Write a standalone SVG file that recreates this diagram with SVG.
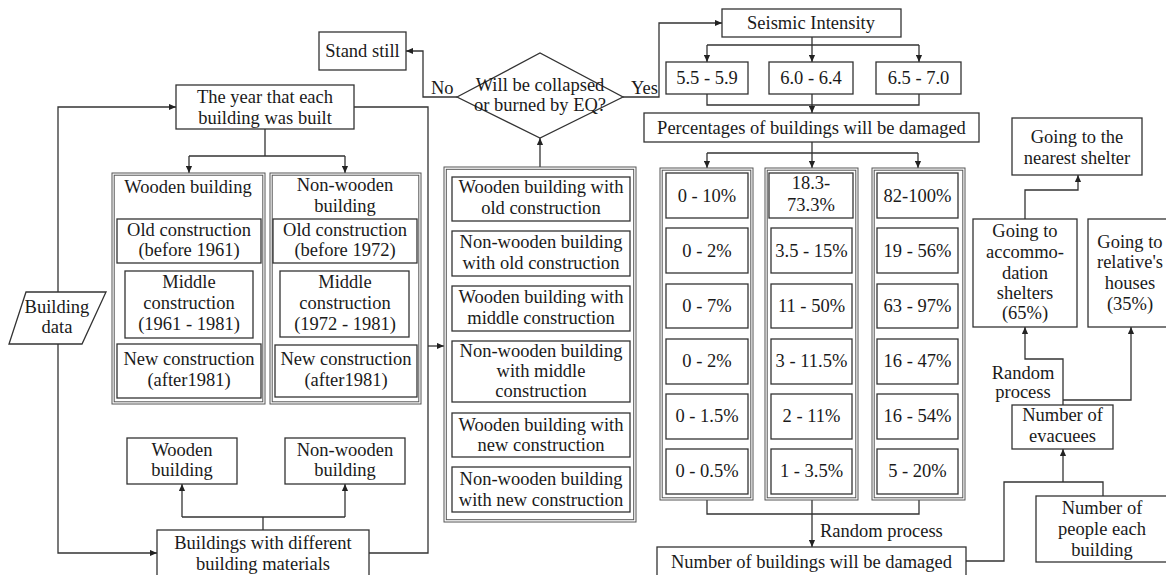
<svg xmlns="http://www.w3.org/2000/svg" width="1166" height="575" viewBox="0 0 1166 575">
<defs>
<marker id="arr" viewBox="0 0 8 8" refX="8" refY="4" markerWidth="7" markerHeight="7" markerUnits="userSpaceOnUse" orient="auto">
<path d="M0,0.5 L8,4 L0,7.5 z" fill="#222"/>
</marker>
<style>
rect, polygon { fill: #fff; stroke: #333; stroke-width: 1.3; }
.outer { stroke: #555; stroke-width: 1; }
.dbl { fill: none; stroke: #555; stroke-width: 1; }
text { font-family: "Liberation Serif", "Times New Roman", serif; font-size: 18.5px; fill: #1a1a1a; text-anchor: middle; }
.lbl { text-anchor: start; }
#connectors path { fill: none; stroke: #333; stroke-width: 1.3; }
.a { marker-end: url(#arr); }
</style>
</defs>
<rect x="0" y="0" width="1166" height="575" style="fill:#fff;stroke:none"/>

<g id="connectors">
<path class="a" d="M457,97 H423 V51 H406"/>
<path class="a" d="M623,97 H659 V23 H722"/>
<path class="a" d="M540,167 V138"/>
<path d="M265,129 V156 M189,156 H345"/>
<path class="a" d="M189,156 V173"/>
<path class="a" d="M345,156 V173"/>
<path class="a" d="M58,292 V107 H176"/>
<path class="a" d="M58,344 V553 H157"/>
<path d="M354,107 H428 V553 H369"/>
<path class="a" d="M428,346 H444"/>
<path d="M263,530 V517 M182,517 H345"/>
<path class="a" d="M182,517 V484"/>
<path class="a" d="M345,517 V484"/>
<path class="a" d="M812,37 V62"/>
<path d="M707,45 H919"/>
<path class="a" d="M707,45 V62"/>
<path class="a" d="M919,45 V62"/>
<path d="M707,94 V105 H919 V94"/>
<path class="a" d="M812,94 V113"/>
<path class="a" d="M812,142 V168"/>
<path d="M707,153 H918"/>
<path class="a" d="M707,153 V168"/>
<path class="a" d="M918,153 V168"/>
<path d="M707,500 V514 H919 V500"/>
<path class="a" d="M812,500 V547"/>
<path d="M966,561 H1004 V482 H1103 V496"/>
<path class="a" d="M1063,482 V449"/>
<path class="a" d="M1063,405 V359 H1025 V327"/>
<path class="a" d="M1063,400 H1131 V327"/>
<path class="a" d="M1025,219 V190 H1078 V175"/>
<text class="lbl" x="431" y="94">No</text>
<text class="lbl" x="631" y="94">Yes</text>
<text class="lbl" x="820" y="537">Random process</text>
<text x="1023" y="379">Random</text>
<text x="1023" y="398">process</text>
</g>

<g id="stand-still">
<rect x="319" y="32" width="87" height="38"/>
<text x="362.5" y="57">Stand still</text>
</g>

<g id="year-built">
<rect x="176" y="85" width="178" height="44"/>
<text x="265" y="103">The year that each</text>
<text x="265" y="124">building was built</text>
</g>

<g id="building-data">
<polygon points="26,292 106,292 82,344 9,344"/>
<text x="57" y="313">Building</text>
<text x="57" y="333">data</text>
</g>

<g id="wooden-column">
<rect class="outer" x="112" y="173" width="153" height="231"/>
<rect class="dbl" x="114.2" y="175.2" width="148.6" height="226.6"/>
<text x="188" y="193">Wooden building</text>
<g id="wood-old">
<rect x="117" y="219" width="144" height="44"/>
<text x="189" y="236">Old construction</text>
<text x="189" y="256">(before 1961)</text>
</g>
<g id="wood-middle">
<rect x="125" y="271" width="128" height="67"/>
<text x="189" y="288">Middle</text>
<text x="189" y="309">construction</text>
<text x="189" y="330">(1961 - 1981)</text>
</g>
<g id="wood-new">
<rect x="117" y="344" width="144" height="54"/>
<text x="189" y="365">New construction</text>
<text x="189" y="386">(after1981)</text>
</g>
</g>

<g id="nonwooden-column">
<rect class="outer" x="270" y="173" width="151" height="231"/>
<rect class="dbl" x="272.2" y="175.2" width="146.6" height="226.6"/>
<text x="345" y="191">Non-wooden</text>
<text x="345" y="212">building</text>
<g id="nonwood-old">
<rect x="273" y="219" width="144" height="44"/>
<text x="345" y="236">Old construction</text>
<text x="345" y="256">(before 1972)</text>
</g>
<g id="nonwood-middle">
<rect x="280" y="271" width="129" height="66"/>
<text x="345" y="288">Middle</text>
<text x="345" y="309">construction</text>
<text x="345" y="330">(1972 - 1981)</text>
</g>
<g id="nonwood-new">
<rect x="275" y="345" width="142" height="52"/>
<text x="346" y="365">New construction</text>
<text x="346" y="386">(after1981)</text>
</g>
</g>

<g id="wooden-small">
<rect x="127" y="438" width="110" height="46"/>
<text x="182" y="456">Wooden</text>
<text x="182" y="476">building</text>
</g>

<g id="nonwooden-small">
<rect x="285" y="438" width="120" height="46"/>
<text x="345" y="456">Non-wooden</text>
<text x="345" y="476">building</text>
</g>

<g id="different-materials">
<rect x="157" y="530" width="212" height="48"/>
<text x="263" y="549">Buildings with different</text>
<text x="263" y="570">building materials</text>
</g>

<g id="decision">
<polygon points="457,97 540,53 623,97 540,138"/>
<text x="540" y="91">Will be collapsed</text>
<text x="540" y="111">or burned by EQ?</text>
</g>

<g id="building-types">
<rect class="outer" x="444" y="167" width="192" height="355"/>
<rect class="dbl" x="446.3" y="169.3" width="187.4" height="350.4"/>
<g id="type-1">
<rect x="452" y="177" width="178" height="44"/>
<text x="541" y="193">Wooden building with</text>
<text x="541" y="214">old construction</text>
</g>
<g id="type-2">
<rect x="452" y="231" width="178" height="45"/>
<text x="541" y="248">Non-wooden building</text>
<text x="541" y="269">with old construction</text>
</g>
<g id="type-3">
<rect x="452" y="286" width="178" height="45"/>
<text x="541" y="303">Wooden building with</text>
<text x="541" y="324">middle construction</text>
</g>
<g id="type-4">
<rect x="452" y="341" width="178" height="61"/>
<text x="541" y="357">Non-wooden building</text>
<text x="541" y="377">with middle</text>
<text x="541" y="397">construction</text>
</g>
<g id="type-5">
<rect x="452" y="413" width="178" height="44"/>
<text x="541" y="431">Wooden building with</text>
<text x="541" y="451">new construction</text>
</g>
<g id="type-6">
<rect x="452" y="467" width="178" height="45"/>
<text x="541" y="485">Non-wooden building</text>
<text x="541" y="506">with new construction</text>
</g>
</g>

<g id="seismic-intensity">
<rect x="722" y="9" width="179" height="28"/>
<text x="811" y="29">Seismic Intensity</text>
</g>
<g id="si-1">
<rect x="666" y="62" width="82" height="32"/>
<text x="707" y="84">5.5 - 5.9</text>
</g>
<g id="si-2">
<rect x="769" y="62" width="84" height="32"/>
<text x="811" y="84">6.0 - 6.4</text>
</g>
<g id="si-3">
<rect x="876" y="62" width="85" height="32"/>
<text x="918.5" y="84">6.5 - 7.0</text>
</g>

<g id="percentages">
<rect x="644" y="113" width="335" height="29"/>
<text x="811.5" y="134">Percentages of buildings will be damaged</text>
</g>

<g id="col-1">
<rect class="outer" x="660" y="168" width="93" height="332"/>
<rect class="dbl" x="662.2" y="170.2" width="88.6" height="327.6"/>
<rect x="666" y="173" width="82" height="45"/><text x="707" y="202">0 - 10%</text>
<rect x="666" y="228" width="82" height="45"/><text x="707" y="257">0 - 2%</text>
<rect x="666" y="284" width="82" height="44"/><text x="707" y="312">0 - 7%</text>
<rect x="666" y="339" width="82" height="45"/><text x="707" y="367">0 - 2%</text>
<rect x="666" y="394" width="82" height="45"/><text x="707" y="422">0 - 1.5%</text>
<rect x="666" y="449" width="82" height="45"/><text x="707" y="477">0 - 0.5%</text>
</g>

<g id="col-2">
<rect class="outer" x="765" y="168" width="93" height="332"/>
<rect class="dbl" x="767.2" y="170.2" width="88.6" height="327.6"/>
<rect x="769" y="173" width="84" height="45"/><text x="811" y="189">18.3-</text><text x="811" y="211">73.3%</text>
<rect x="771" y="228" width="81" height="45"/><text x="811.5" y="257">3.5 - 15%</text>
<rect x="771" y="284" width="81" height="44"/><text x="811.5" y="312">11 - 50%</text>
<rect x="771" y="339" width="81" height="45"/><text x="811.5" y="367">3 - 11.5%</text>
<rect x="771" y="394" width="81" height="45"/><text x="811.5" y="422">2 - 11%</text>
<rect x="771" y="449" width="81" height="45"/><text x="811.5" y="477">1 - 3.5%</text>
</g>

<g id="col-3">
<rect class="outer" x="872" y="168" width="93" height="332"/>
<rect class="dbl" x="874.2" y="170.2" width="88.6" height="327.6"/>
<rect x="877" y="173" width="81" height="45"/><text x="917.5" y="202">82-100%</text>
<rect x="877" y="228" width="81" height="45"/><text x="917.5" y="257">19 - 56%</text>
<rect x="877" y="284" width="81" height="44"/><text x="917.5" y="312">63 - 97%</text>
<rect x="877" y="339" width="81" height="45"/><text x="917.5" y="367">16 - 47%</text>
<rect x="877" y="394" width="81" height="45"/><text x="917.5" y="422">16 - 54%</text>
<rect x="877" y="449" width="81" height="45"/><text x="917.5" y="477">5 - 20%</text>
</g>

<g id="num-damaged">
<rect x="657" y="547" width="309" height="31"/>
<text x="811.5" y="568">Number of buildings will be damaged</text>
</g>

<g id="num-people">
<rect x="1036" y="496" width="134" height="66"/>
<text x="1102" y="514">Number of</text>
<text x="1102" y="535">people each</text>
<text x="1102" y="556">building</text>
</g>

<g id="num-evacuees">
<rect x="1012" y="405" width="101" height="44"/>
<text x="1062.5" y="421">Number of</text>
<text x="1062.5" y="442">evacuees</text>
</g>

<g id="accommodation">
<rect x="973" y="219" width="104" height="108"/>
<text x="1025" y="237">Going to</text>
<text x="1025" y="258">accommo-</text>
<text x="1025" y="279">dation</text>
<text x="1025" y="299">shelters</text>
<text x="1025" y="319">(65%)</text>
</g>

<g id="relatives">
<rect x="1088" y="219" width="82" height="108"/>
<text x="1130" y="248">Going to</text>
<text x="1130" y="268">relative's</text>
<text x="1130" y="289">houses</text>
<text x="1130" y="310">(35%)</text>
</g>

<g id="nearest-shelter">
<rect x="1012" y="118" width="130" height="57"/>
<text x="1077" y="143">Going to the</text>
<text x="1077" y="164">nearest shelter</text>
</g>
</svg>
